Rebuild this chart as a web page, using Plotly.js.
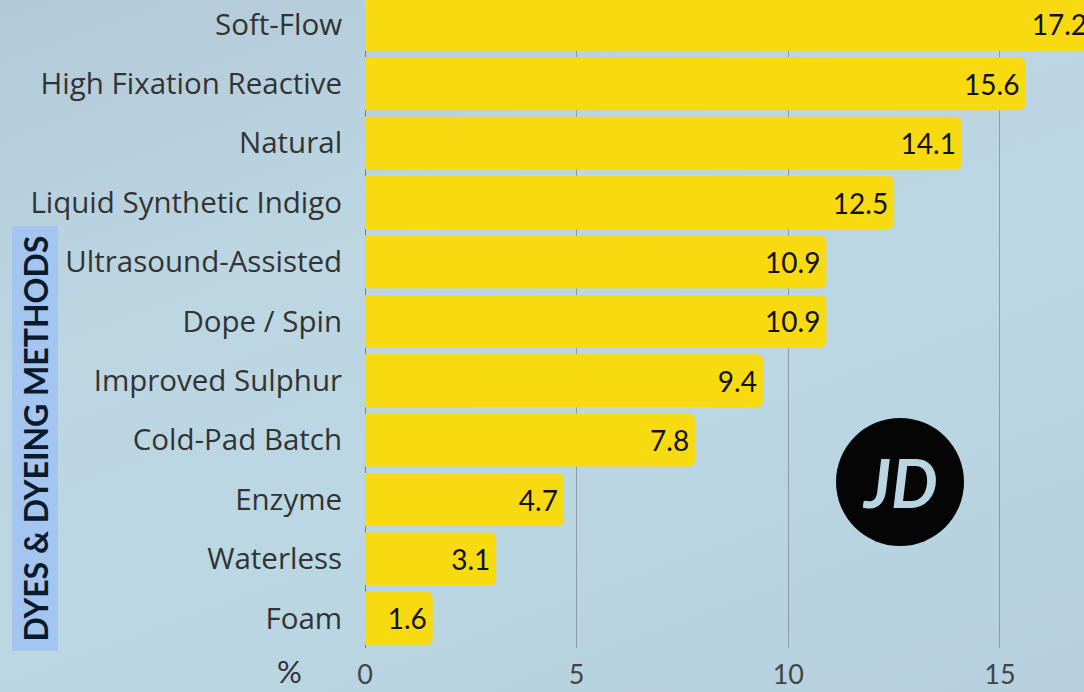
<!DOCTYPE html>
<html>
<head>
<meta charset="utf-8">
<script src="https://cdn.plot.ly/plotly-3.0.1.min.js"></script>
<style>
html,body{margin:0;padding:0;width:1084px;height:692px;overflow:hidden;}
body{background:linear-gradient(160deg,#b3cad9 0%,#bcd6e2 35%,#bad7e3 60%,#b6d0dd 100%);}
#chart{width:1084px;height:692px;}
</style>
</head>
<body>
<div id="chart"></div>
<script>
const categories = ["Foam","Waterless","Enzyme","Cold-Pad Batch","Improved Sulphur","Dope / Spin","Ultrasound-Assisted","Liquid Synthetic Indigo","Natural","High Fixation Reactive","Soft-Flow"];
const values = [1.6,3.1,4.7,7.8,9.4,10.9,10.9,12.5,14.1,15.6,17.2];
const valueLabels = ["1.6","3.1","4.7","7.8","9.4","10.9","10.9","12.5","14.1","15.6","17.2"];
const xTickVals = [0,5,10,15];
const xTickText = ["0","5","10","15"];
const yTitle = "DYES &amp; DYEING METHODS";
const unitLabel = "%";
const logoText = "JD";

const FONT = "'Open Sans', Lato, sans-serif";
const FONT2 = "Lato, 'Open Sans', sans-serif";

const trace = {
  type: "bar",
  orientation: "h",
  y: categories,
  x: values,
  text: valueLabels,
  textposition: "inside",
  insidetextanchor: "end",
  textangle: 0,
  textfont: {family: FONT2, size: 28, color: "#111111"},
  marker: {color: "#f7da0f", line: {width: 0}},
  cliponaxis: true,
  hoverinfo: "skip"
};

const layout = {
  width: 1084,
  height: 692,
  margin: {l: 365, r: 0, t: 0, b: 44, pad: 0},
  paper_bgcolor: "rgba(0,0,0,0)",
  plot_bgcolor: "rgba(0,0,0,0)",
  bargap: 0.11,
  barcornerradius: 6,
  showlegend: false,
  font: {family: FONT, color: "#333333"},
  xaxis: {
    range: [0, 16.985],
    tickvals: xTickVals,
    ticktext: xTickText,
    showgrid: true,
    gridcolor: "#8b9ca8",
    gridwidth: 1,
    zeroline: true,
    zerolinecolor: "#6f7f8a",
    zerolinewidth: 1,
    showline: false,
    ticks: "outside",
    ticklen: 3,
    tickcolor: "rgba(0,0,0,0)",
    tickfont: {family: FONT2, size: 27, color: "#444444"},
    fixedrange: true
  },
  yaxis: {
    type: "category",
    categoryorder: "array",
    categoryarray: categories,
    range: [-0.5, 10.41],
    showgrid: false,
    zeroline: false,
    showline: false,
    ticks: "outside",
    ticklen: 16,
    tickcolor: "rgba(0,0,0,0)",
    tickfont: {family: FONT, size: 29.5, color: "#333333"},
    fixedrange: true
  },
  shapes: [
    {type: "rect", xref: "paper", yref: "paper",
     x0: (12-365)/719, x1: (58-365)/719,
     y0: (648-651)/648, y1: (648-226)/648,
     fillcolor: "#a5c5f1", line: {width: 0}, layer: "below"},
    {type: "circle", xref: "paper", yref: "paper",
     x0: (836-365)/719, x1: (964-365)/719,
     y0: (648-546)/648, y1: (648-418)/648,
     fillcolor: "#050505", line: {width: 0}, layer: "above"}
  ],
  annotations: [
    {xref: "paper", yref: "paper", x: (35-365)/719, y: (648-438.5)/648,
     text: "<b>" + yTitle + "</b>", textangle: -90, showarrow: false,
     font: {family: FONT2, size: 32, color: "#0b1a2c"},
     xanchor: "center", yanchor: "middle"},
    {xref: "paper", yref: "paper", x: (289-365)/719, y: (648-671)/648,
     text: unitLabel, showarrow: false, xanchor: "center", yanchor: "middle",
     font: {family: FONT2, size: 31, color: "#333333"}},
    {xref: "paper", yref: "paper", x: (900-365)/719, y: (648-482)/648,
     text: "<b><i>" + logoText + "</i></b>", showarrow: false, xanchor: "center", yanchor: "middle",
     font: {family: FONT2, size: 66, color: "#b9d5e1"}}
  ]
};

Plotly.newPlot("chart", [trace], layout, {displayModeBar: false, staticPlot: true});
</script>
</body>
</html>
